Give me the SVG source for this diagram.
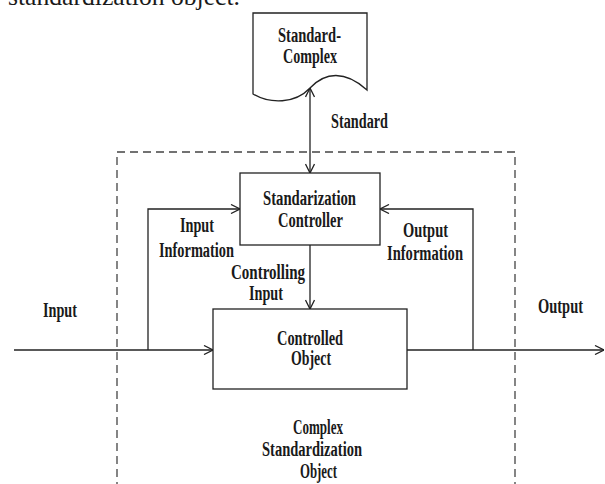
<svg xmlns="http://www.w3.org/2000/svg" width="605" height="484" viewBox="0 0 605 484">
<style>
.box{fill:#fff;stroke:#222;stroke-width:1.3}
.ln{fill:none;stroke:#222;stroke-width:1.3}
.dash{fill:none;stroke:#444;stroke-width:1.3;stroke-dasharray:8 5}
.t{font-family:"Liberation Serif","Times New Roman",serif;font-weight:bold;font-size:20px;fill:#1a1a1a}
.cap{font-family:"Liberation Serif","Times New Roman",serif;font-size:25px;fill:#1a1a1a}
</style>
<defs>
<marker id="arr" viewBox="0 0 10 10" refX="10" refY="5" markerWidth="10" markerHeight="10" markerUnits="userSpaceOnUse" orient="auto-start-reverse">
<polyline points="1,0.5 10,5 1,9.5" fill="none" stroke="#222" stroke-width="1.3"/>
</marker>
</defs>
<text class="cap" x="8" y="5" textLength="232" lengthAdjust="spacingAndGlyphs">standardization object.</text>
<path class="dash" d="M117,490 V152 H515 V490"/>
<g id="connectors">
<line class="ln" x1="310" y1="88" x2="310" y2="173" marker-start="url(#arr)" marker-end="url(#arr)"/>
<line class="ln" x1="310" y1="245" x2="310" y2="309" marker-end="url(#arr)"/>
<line class="ln" x1="14" y1="350" x2="213" y2="350" marker-end="url(#arr)"/>
<polyline class="ln" points="148,350 148,209 240,209" marker-end="url(#arr)"/>
<line class="ln" x1="407" y1="350" x2="604" y2="350" marker-end="url(#arr)"/>
<polyline class="ln" points="473,350 473,209 380,209" marker-end="url(#arr)"/>
</g>
<g id="standard-complex">
<path class="box" d="M253,13 H367 V90 C345,70 325,72 310,88 C295,104 270,104 253,94 Z"/>
<text class="t" x="278" y="42" textLength="63" lengthAdjust="spacingAndGlyphs">Standard-</text>
<text class="t" x="283" y="63" textLength="54" lengthAdjust="spacingAndGlyphs">Complex</text>
</g>
<g id="controller">
<rect class="box" x="240" y="173" width="140" height="72"/>
<text class="t" x="263" y="205" textLength="93" lengthAdjust="spacingAndGlyphs">Standarization</text>
<text class="t" x="278" y="227" textLength="65" lengthAdjust="spacingAndGlyphs">Controller</text>
</g>
<g id="controlled-object">
<rect class="box" x="213" y="309" width="194" height="80"/>
<text class="t" x="277" y="345" textLength="66" lengthAdjust="spacingAndGlyphs">Controlled</text>
<text class="t" x="291" y="365" textLength="40" lengthAdjust="spacingAndGlyphs">Object</text>
</g>
<g id="labels">
<text class="t" x="331" y="128" textLength="57" lengthAdjust="spacingAndGlyphs">Standard</text>
<text class="t" x="180" y="232" textLength="34" lengthAdjust="spacingAndGlyphs">Input</text>
<text class="t" x="159" y="257" textLength="75" lengthAdjust="spacingAndGlyphs">Information</text>
<text class="t" x="231" y="279" textLength="74" lengthAdjust="spacingAndGlyphs">Controlling</text>
<text class="t" x="249" y="300" textLength="34" lengthAdjust="spacingAndGlyphs">Input</text>
<text class="t" x="403" y="237" textLength="45" lengthAdjust="spacingAndGlyphs">Output</text>
<text class="t" x="387" y="260" textLength="76" lengthAdjust="spacingAndGlyphs">Information</text>
<text class="t" x="538" y="313" textLength="45" lengthAdjust="spacingAndGlyphs">Output</text>
<text class="t" x="43" y="317" textLength="34" lengthAdjust="spacingAndGlyphs">Input</text>
</g>
<g id="complex-standardization-object">
<text class="t" x="293" y="434" textLength="50" lengthAdjust="spacingAndGlyphs">Complex</text>
<text class="t" x="262" y="456" textLength="100" lengthAdjust="spacingAndGlyphs">Standardization</text>
<text class="t" x="300" y="478" textLength="37" lengthAdjust="spacingAndGlyphs">Object</text>
</g>
</svg>
